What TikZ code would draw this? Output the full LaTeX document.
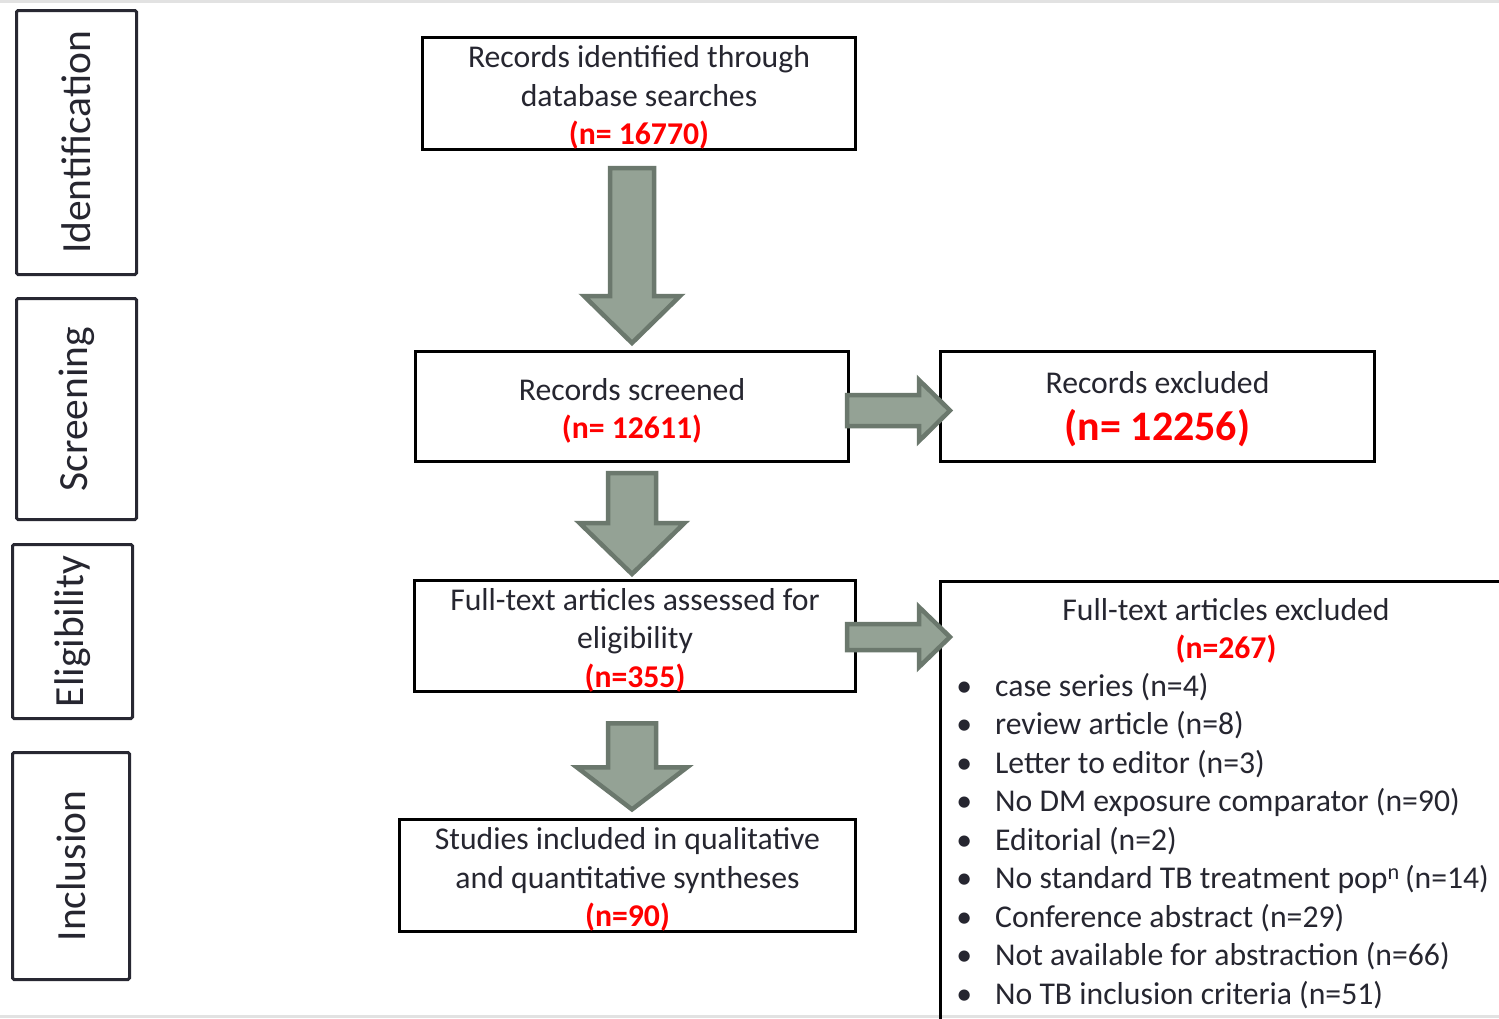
\documentclass[tikz,border=0pt]{standalone}
\usepackage{fontspec}
\setmainfont{Carlito}
\usetikzlibrary{calc}
\definecolor{txt}{RGB}{38,38,48}
\definecolor{arrowfill}{RGB}{148,162,149}
\definecolor{arrowline}{RGB}{107,120,109}
\definecolor{sideline}{RGB}{40,40,50}
\definecolor{band}{RGB}{226,226,226}
\definecolor{nred}{RGB}{255,0,0}
\newcommand{\blockarrow}[6]{%
  \begin{scope}[shift={#1}, rotate=#2]
    \draw[blockarr] (0,-#4) -- ({#3-#6},-#4) -- ({#3-#6},-#5) -- (#3,0) -- ({#3-#6},#5) -- ({#3-#6},#4) -- (0,#4) -- cycle;
  \end{scope}}
\newcommand{\nred}[1]{\textcolor{nred}{\bfseries #1}}
\newcommand{\bul}{\llap{\makebox[0pt][c]{•}\hspace{31pt}}}
\newcommand{\topstrut}[1]{\rule{0pt}{#1}}
\begin{document}
\begin{tikzpicture}[x=1pt,y=-1pt,
  mainfont/.style={font=\fontsize{31.7}{38.5}\selectfont},
  flowbox/.style={draw=black, line width=3pt, text=txt, align=center, inner sep=0pt, mainfont},
  sidebox/.style={draw=sideline, line width=3pt, rounded corners=1.5pt, text=txt, inner sep=0pt,
    font=\fontsize{41.5}{48}\selectfont},
  sidetext/.style={text=txt, font=\fontsize{41.5}{48}\selectfont, rotate=90, inner sep=0pt},
  blockarr/.style={fill=arrowfill, draw=arrowline, line width=4.5pt, line join=miter}]
\useasboundingbox (0,0) rectangle (1499,1018);
\clip (0,0) rectangle (1499,1018);
\fill[white] (0,0) rectangle (1499,1018);
\fill[band] (0,0) rectangle (1499,3);
\fill[band] (0,1015) rectangle (1499,1018);

% side stage boxes
\node[sidebox, minimum width=120pt, minimum height=264pt] (sid) at (76.5,142.5) {};
\node[sidetext] (sidt) at (sid.center) {Identification};
\node[sidebox, minimum width=120pt, minimum height=221pt] (ssc) at (76.5,409) {};
\node[sidetext] (ssct) at (ssc.center) {Screening};
\node[sidebox, minimum width=120pt, minimum height=174pt] (sel) at (72.5,631.5) {};
\node[sidetext] (selt) at (sel.center) {Eligibility};
\node[sidebox, minimum width=117pt, minimum height=227pt] (sin) at (71,866) {};
\node[sidetext] (sint) at (sin.center) {Inclusion};

% flow boxes
\node[flowbox, minimum width=433pt, minimum height=112pt] (b1) at (639,93.5)
  {\topstrut{30pt}Records identified through\\ database searches\\ \nred{(n= 16770)}};
\node[flowbox, minimum width=433pt, minimum height=110pt] (b2) at (632,406.5)
  {\topstrut{31pt}Records screened\\ \nred{(n= 12611)}};
\node[flowbox, minimum width=434pt, minimum height=110pt] (b3) at (1157.5,406.5)
  {\topstrut{27pt}Records excluded\\[9pt] {\fontsize{42}{46}\selectfont\nred{(n= 12256)}}};
\node[flowbox, minimum width=441pt, minimum height=109pt] (b4) at (635,636)
  {\topstrut{30pt}Full-text articles assessed for\\ eligibility\\ \nred{(n=355)}};
\node[flowbox, minimum width=571pt, minimum height=457pt] (b5) at (1226,810) {};
\node[flowbox, minimum width=456pt, minimum height=110pt] (b6) at (627.5,875.5)
  {\topstrut{30pt}Studies included in qualitative\\ and quantitative syntheses\\ \nred{(n=90)}};

% content of excluded full-text box (base anchor = baseline of last line)
\node[text=txt, align=center, inner sep=0pt, anchor=base, font=\fontsize{31.7}{37.5}\selectfont] (b5t)
  at ($(b5.north)+(0,78)$) {Full-text articles excluded\\ \nred{(n=267)}};
\node[text=txt, align=left, inner sep=0pt, anchor=base west, mainfont] (b5l)
  at ($(b5.north west)+(56,424)$) {%
  \bul case series (n=4)\\
  \bul review article (n=8)\\
  \bul Letter to editor (n=3)\\
  \bul No DM exposure comparator (n=90)\\
  \bul Editorial (n=2)\\
  \bul No standard TB treatment pop\textsuperscript{n}\,(n=14)\\
  \bul Conference abstract (n=29)\\
  \bul Not available for abstraction (n=66)\\
  \bul No TB inclusion criteria (n=51)};

% block arrows
\blockarrow{($(b1.south -| b2.center)+(0,17)$)}{-90}{175}{22}{48}{47}
\blockarrow{($(b2.south)+(0,10)$)}{-90}{101}{24}{52.5}{51}
\blockarrow{($(b4.south -| b2.center)+(0,30)$)}{-90}{86}{24}{55}{42}
\blockarrow{($(b2.east)+(-3,4)$)}{0}{103}{15.5}{30.5}{31}
\blockarrow{($(b4.east)+(-10,1)$)}{0}{103}{13}{30}{31}
\end{tikzpicture}
\end{document}
